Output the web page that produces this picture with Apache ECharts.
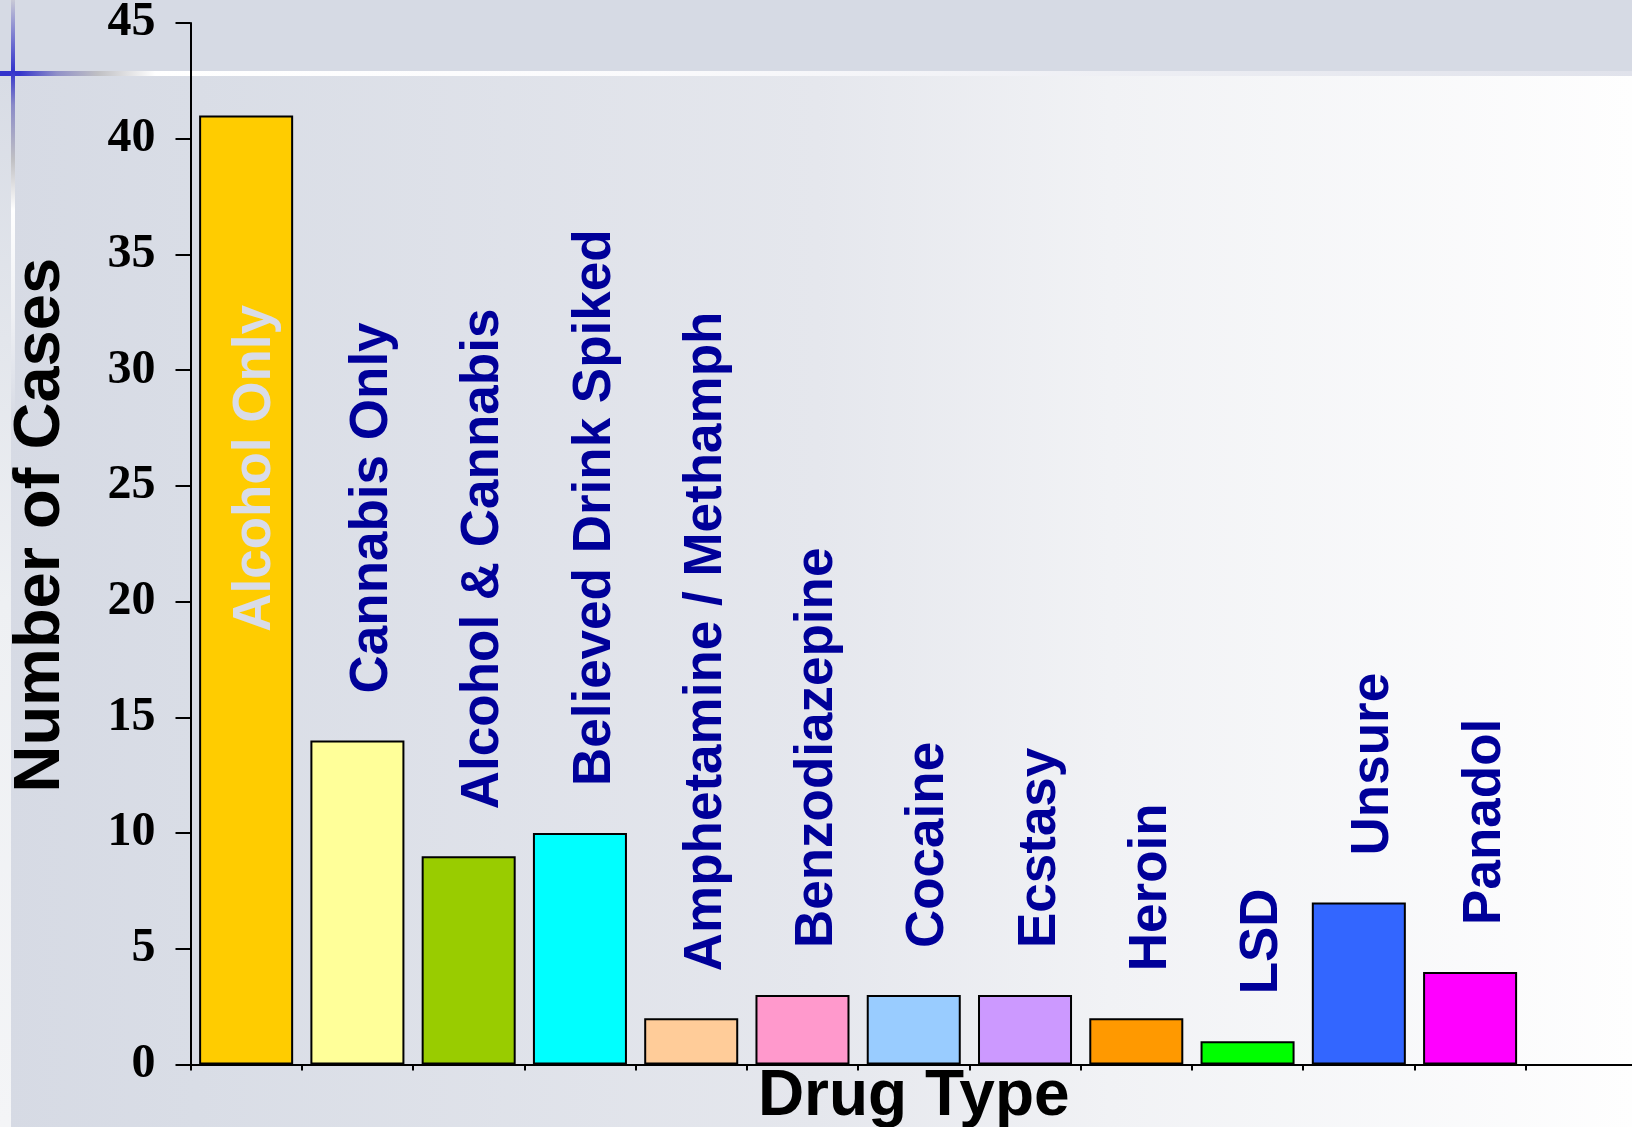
<!DOCTYPE html>
<html><head><meta charset="utf-8">
<script src="https://cdn.jsdelivr.net/npm/echarts@6/dist/echarts.min.js"></script>
<style>html,body{margin:0;padding:0;background:#fff}#c{width:1632px;height:1127px}</style>
</head><body><div id="c"></div>
<script>
// ---- data ----
const categories = ['Alcohol Only', 'Cannabis Only', 'Alcohol & Cannabis', 'Believed Drink Spiked',
  'Amphetamine / Methamph', 'Benzodiazepine', 'Cocaine', 'Ecstasy', 'Heroin', 'LSD', 'Unsure', 'Panadol', ''];
const cases = [41, 14, 9, 10, 2, 3, 3, 3, 2, 1, 7, 4, null];
const barColors = ['#FFCC00', '#FFFF99', '#99CC00', '#00FFFF', '#FFCC99', '#FF99CC', '#99CCFF',
  '#CC99FF', '#FF9900', '#00FF00', '#3366FF', '#FF00FF', '#000000'];
const yMin = 0, yMax = 45, yStep = 5;
const xTitle = 'Drug Type';
const yTitle = 'Number of Cases';

// ---- chart ----
const W = 1632, H = 1127;
const LG = echarts.graphic.LinearGradient;
const chart = echarts.init(document.getElementById('c'), null, {renderer: 'canvas'});

const sans = 'Liberation Sans, Arial, sans-serif';
const serif = 'Liberation Serif, Times New Roman, serif';

chart.setOption({
  animation: false,
  backgroundColor: 'transparent',
  graphic: {elements: [
    {type: 'rect', z: -100, silent: true, shape: {x: 0, y: 0, width: W, height: H},
      style: {fill: new LG(0, 0, 1, 0, [
        {offset: 0, color: '#D6DAE4'}, {offset: 0.12, color: '#D9DDE6'},
        {offset: 0.5, color: '#E5E7ED'}, {offset: 0.68, color: '#F1F2F5'},
        {offset: 1, color: '#FEFEFE'}])}},
    {type: 'rect', z: -99, silent: true, shape: {x: 0, y: 0, width: W, height: 71},
      style: {fill: '#D6DAE4'}},
    {type: 'rect', z: -98, silent: true, shape: {x: 0, y: 76, width: 11, height: H - 76},
      style: {fill: new LG(0, 0, 0, 1, [
        {offset: 0, color: '#D8DCE5'}, {offset: 0.5, color: '#EEF0F3'}, {offset: 1, color: '#F4F5F7'}])}},
    {type: 'rect', z: -97, silent: true, shape: {x: 0, y: 71, width: W, height: 5},
      style: {fill: new LG(0, 0, 1, 0, [
        {offset: 0, color: '#3333CC'}, {offset: 0.012, color: '#3535CC'},
        {offset: 0.035, color: '#9090C8'}, {offset: 0.06, color: '#C0C0C4'},
        {offset: 0.095, color: '#FFFFFF'}, {offset: 0.4, color: '#FAFAFC'},
        {offset: 1, color: '#E0E2EB'}])}},
    {type: 'rect', z: -96, silent: true, shape: {x: 11, y: 0, width: 4, height: 420},
      style: {fill: new LG(0, 0, 0, 1, [
        {offset: 0, color: '#C8C9D6'}, {offset: 0.169, color: '#3333CC'},
        {offset: 0.25, color: '#8A8AC8'}, {offset: 0.38, color: '#C0C0C4'},
        {offset: 0.5, color: '#FFFFFF'}, {offset: 0.75, color: 'rgba(255,255,255,0.6)'},
        {offset: 1, color: 'rgba(255,255,255,0)'}])}}
  ]},
  grid: {left: 190.5, right: -5, top: 23, bottom: 62.5, containLabel: false, outerBoundsMode: 'none'},
  xAxis: {
    type: 'category', data: categories,
    axisLine: {lineStyle: {color: '#000', width: 2}},
    axisTick: {show: true, length: 6, interval: 0, lineStyle: {color: '#000', width: 2}},
    axisLabel: {show: false},
    splitLine: {show: false},
    name: xTitle, nameLocation: 'middle', nameGap: 1,
    nameTextStyle: {fontFamily: sans, fontWeight: 'bold', fontSize: 64, color: '#000'}
  },
  yAxis: {
    type: 'value', min: yMin, max: yMax, interval: yStep,
    axisLine: {show: true, lineStyle: {color: '#000', width: 2}},
    axisTick: {show: true, length: 15, lineStyle: {color: '#000', width: 2}},
    splitLine: {show: false},
    axisLabel: {margin: 35, fontFamily: serif, fontWeight: 'bold', fontSize: 48, color: '#000'},
    name: yTitle, nameLocation: 'middle', nameGap: 117,
    nameTextStyle: {fontFamily: sans, fontWeight: 'bold', fontSize: 65, color: '#000', padding: [0, 0, 0, 37]}
  },
  series: [{
    type: 'bar',
    barCategoryGap: '15.5%',
    data: cases.map((v, i) => {
      const d = {value: v, itemStyle: {color: barColors[i]}};
      if (i === 0) d.label = {position: ['50%', '54.4%'], distance: 0, offset: [0, 9], color: '#D9DCE8'};
      return d;
    }),
    itemStyle: {borderColor: '#000', borderWidth: 2},
    label: {
      show: true, position: 'top', distance: 47, rotate: 90, align: 'left', verticalAlign: 'middle',
      offset: [0, 15], formatter: '{b}',
      fontFamily: sans, fontWeight: 'bold', fontSize: 53, color: '#000099'
    }
  }]
});
</script>
</body></html>
